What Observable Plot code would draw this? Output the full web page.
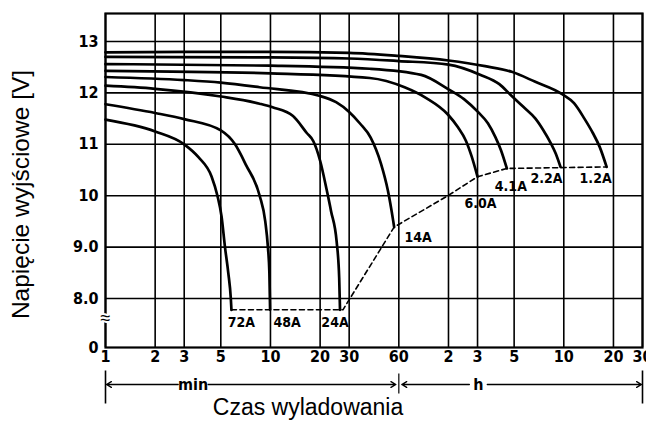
<!DOCTYPE html>
<html><head><meta charset="utf-8">
<script src="https://cdn.jsdelivr.net/npm/d3@7"></script>
<script src="https://cdn.jsdelivr.net/npm/@observablehq/plot@0.6"></script>
<style>body{margin:0;background:#fff}</style>
</head><body><div id="chart"></div>
<script>
// ---- data ----
const currents = ["72A","48A","24A","14A","6.0A","4.1A","2.2A","1.2A"];
const t72 = [1,2,3,3.66,4.4,4.77,5.05,5.3,5.55,5.75,5.8];
const v72 = [11.48,11.25,11.0,10.75,10.37,10.0,9.6,9.0,8.5,8.0,7.78];
const t48 = [1,2,3,5,6.1,7.1,8.6,9.3,9.65,9.85,9.95];
const v48 = [11.78,11.61,11.49,11.27,11.0,10.6,10.0,9.5,9.0,8.5,7.78];
const t24 = [1,2,5,8.6,10.3,13.7,16.6,18.2,20,21.9,23.3,25.2,26.1,26.4];
const v24 = [12.14,12.08,11.93,11.79,11.72,11.55,11.22,11.06,10.68,10.12,9.7,9.1,8.4,7.78];
const t14 = [1,3,5,8.6,20,25,30,35,40.5,46.8,51.5,55.4,56.2];
const v14 = [12.31,12.25,12.2,12.11,11.94,11.82,11.63,11.4,11.13,10.62,10.1,9.52,9.39];
const t60 = [1,10,40,65,88,119,137,153,166,180];
const v60 = [12.43,12.38,12.29,12.11,11.9,11.58,11.33,11.07,10.76,10.37];
const t41 = [1,10,40,82,120,149,181,208,231,250,271];
const v41 = [12.56,12.53,12.47,12.35,12.07,11.88,11.63,11.41,11.14,10.88,10.53];
const t22 = [1,10,30,60,120,188,244,288,341,404,452,499,536,573];
const v22 = [12.70,12.69,12.67,12.62,12.55,12.35,12.17,11.95,11.73,11.5,11.27,11.03,10.82,10.56];
const t12 = [1,3,10,30,60,120,200,290,400,590,692,800,900,990,1091];
const v12 = [12.79,12.80,12.80,12.78,12.72,12.63,12.52,12.41,12.22,11.97,11.80,11.5,11.22,10.95,10.56];
const tEnd = [5.8,27.5,56.2,119,180,271,1091];
const vEnd = [7.78,7.78,9.39,10.0,10.37,10.53,10.56];

const xTickValues = [1,2,3,5,10,20,30,60,120,180,300,600,1200,1800];
const xTickLabels = ["1","2","3","5","10","20","30","60","2","3","5","10","20","30"];
const Y_MIN = 7.047, Y_MAX = 13.545;
const yTickValues = [Y_MIN,8,9,10,11,12,13];
const yTickLabels = ["0","8.0","9.0","10","11","12","13"];
const yGridValues = [8,9,10,11,12,13];
const unitSpans = [{label:"min", from:1, at:3.4, to:60}, {label:"h", from:60, at:182, to:1800}];
const yTitle = "Napięcie wyjściowe [V]";
const xTitle = "Czas wyladowania";

// ---- layout ----
const W = 646, H = 424, MT = 13, MB = 77, ML = 105, MR = 4;
const PX_PER_V = (H - MT - MB) / (Y_MAX - Y_MIN);
const below = px => Y_MIN - px / PX_PER_V;
const TICK_FONT = "'Liberation Sans Narrow','DejaVu Sans Condensed','Liberation Sans',Arial,sans-serif";
const TITLE_FONT = "'Liberation Sans',Arial,Helvetica,sans-serif";

const tt = [t72,t48,t24,t14,t60,t41,t22,t12];
const vv = [v72,v48,v24,v14,v60,v41,v22,v12];
const rows = currents.flatMap((c,k) => tt[k].map((t,i) => ({name:c, t, v: vv[k][i]})));
const ends = currents.map((c,k) => ({name:c, t: tt[k][tt[k].length-1], v: vv[k][vv[k].length-1]}));
const endRows = tEnd.map((t,i) => ({t, v: vEnd[i]}));
const labelOffsets = [[10,13],[17,13],[-5,13],[24,10],[3,27],[4,18],[-14,12],[-11,12]];

const xTicks = xTickValues.map((d,i) => ({x: d, label: xTickLabels[i]}));
const yLabelMap = new Map(yTickValues.map((d,i) => [d, yTickLabels[i]]));

const arrowSegs = unitSpans.flatMap(s => [
  {x1: s.at, x2: s.from, inset: s.label === "min" ? 15 : 9, end: s.from === 1 ? 1 : 3},
  {x1: s.at, x2: s.to, inset: s.label === "min" ? 15 : 9, end: s.to === 1800 ? 1 : 3}
]);

const marks = [
  Plot.gridX({ticks: xTickValues, stroke: "black", strokeOpacity: 1, strokeWidth: 1.6}),
  Plot.gridY({ticks: yGridValues, stroke: "black", strokeOpacity: 1, strokeWidth: 1.6}),
  Plot.frame({stroke: "black", strokeWidth: 2.2}),
  Plot.line(rows, {x: "t", y: "v", z: "name", curve: "monotone-x", stroke: "black", strokeWidth: 2.7}),
  Plot.line(endRows, {x: "t", y: "v", stroke: "black", strokeWidth: 1.6, strokeDasharray: "5,3.5"}),
  ...ends.map((e,k) => Plot.text([e], {x: "t", y: "v", text: "name", dx: labelOffsets[k][0], dy: labelOffsets[k][1],
      fontSize: 14, fontWeight: "bold", fontFamily: TICK_FONT, fill: "black"})),
  // x tick labels (placed with the x scale)
  Plot.text(xTicks, {x: "x", text: "label", frameAnchor: "bottom", lineAnchor: "top", dy: 3,
      fontSize: 16, fontWeight: "bold", fontFamily: TICK_FONT, fill: "black"}),
  Plot.axisY({ticks: yTickValues, tickFormat: d => yLabelMap.get(d), tickSize: 0, tickPadding: 7, label: null,
      fontSize: 16, fontWeight: "bold", fontFamily: TICK_FONT}),
  // axis break on the left edge
  Plot.text([0], {x: () => 1, y: () => 7.62, text: () => "≈", fontSize: 18, fill: "black",
      stroke: "white", strokeWidth: 4, fontFamily: TITLE_FONT}),
  // min / h brackets
  Plot.link([1, 1800], {x1: d => d, x2: d => d, y1: below(23), y2: below(56), stroke: "black", strokeWidth: 1.6}),
  Plot.link([60], {x1: d => d, x2: d => d, y1: below(26), y2: below(46), stroke: "black", strokeWidth: 1.2}),
  ...arrowSegs.map(s => Plot.arrow([s], {x1: "x1", x2: "x2", y1: below(37), y2: below(37),
      insetStart: s.inset, insetEnd: s.end, headLength: 6, stroke: "black", strokeWidth: 1.4})),
  Plot.text(unitSpans, {x: "at", y: below(37), text: "label", fontSize: 16, fontWeight: "bold", fontFamily: TICK_FONT}),
  // titles
  Plot.text([xTitle], {frameAnchor: "bottom", dx: -66, dy: 67, fontSize: 23, fontFamily: TITLE_FONT, fill: "black"}),
  Plot.text([yTitle], {frameAnchor: "left", textAnchor: "middle", dx: -84, dy: 14, rotate: -90,
      fontSize: 24.5, fontFamily: TITLE_FONT, fill: "black"})
];

const chart = Plot.plot({
  width: W, height: H,
  marginTop: MT, marginBottom: MB, marginLeft: ML, marginRight: MR,
  x: {type: "log", domain: [1, 1800], axis: null},
  y: {domain: [Y_MIN, Y_MAX], label: null},
  style: {background: "white", color: "black", fontFamily: TITLE_FONT, fontSize: "16px"},
  marks
});
document.getElementById("chart").appendChild(chart);
</script></body></html>
